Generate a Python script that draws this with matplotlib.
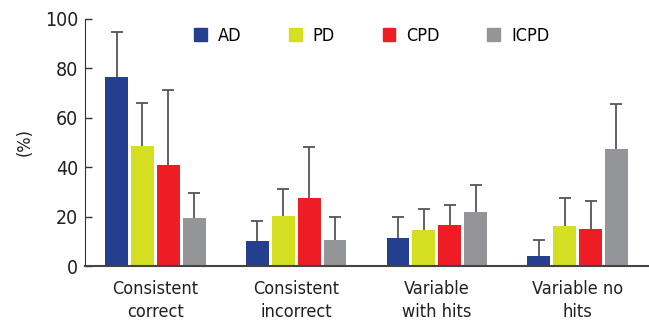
import numpy as np
import matplotlib.pyplot as plt
from matplotlib.patches import Patch

plt.rcParams['font.family'] = ['DejaVu Sans']
plt.rcParams['font.stretch'] = 'condensed'

# === datos ===
categories = ["Consistent\ncorrect", "Consistent\nincorrect", "Variable\nwith hits", "Variable no\nhits"]
groups = ["AD", "PD", "CPD", "ICPD"]
colors = ["#253f8f", "#d4df22", "#ee1c25", "#939598"]

ad_mean = [76.5, 10.1, 11.3, 4.0]
ad_sd = [18.1, 8.1, 8.7, 6.6]
pd_mean = [48.6, 20.1, 14.6, 16.2]
pd_sd = [17.5, 11.2, 8.5, 11.5]
cpd_mean = [40.9, 27.5, 16.6, 15.0]
cpd_sd = [30.2, 20.5, 8.0, 11.4]
icpd_mean = [19.3, 10.5, 21.9, 47.4]
icpd_sd = [10.4, 9.5, 10.8, 18.2]

means = [ad_mean, pd_mean, cpd_mean, icpd_mean]
sds = [ad_sd, pd_sd, cpd_sd, icpd_sd]

# === figura ===
fig = plt.figure(figsize=(6.49, 3.25), dpi=100)
ax = fig.add_axes([85 / 649, 1 - 266 / 325, (648 - 85) / 649, (266 - 19) / 325])

x = np.arange(len(categories))
width = 0.163
step = 0.184
for i, (m, s) in enumerate(zip(means, sds)):
    pos = x + (i - 1.5) * step
    ax.bar(pos, m, width, color=colors[i], zorder=2)
    eb = ax.errorbar(pos, m, yerr=[np.zeros(len(s)), s], fmt='none',
                     ecolor='#555555', elinewidth=1.3, capsize=4, capthick=1.3, zorder=1)
    eb[1][0].set_visible(False)  # sin tapa inferior

ax.set_xlim(-0.5, 3.5)
ax.set_ylim(0, 100)
ax.set_yticks([0, 20, 40, 60, 80, 100])
ax.set_xticks(x)
ax.set_xticklabels(categories, fontsize=13, color='#231f20', linespacing=1.4)
ax.tick_params(axis='x', length=0, pad=10)
ax.tick_params(axis='y', direction='in', length=5, width=1, color='#333333',
               labelsize=14, labelcolor='#231f20', pad=5)
ax.set_ylabel("(%)", fontsize=13, color='#231f20', labelpad=8)

for side in ['top', 'right']:
    ax.spines[side].set_visible(False)
ax.spines['left'].set_color('#333333')
ax.spines['bottom'].set_color('#444444')
ax.spines['bottom'].set_linewidth(1.5)

handles = [Patch(color=c, label=g) for c, g in zip(colors, groups)]
ax.legend(handles=handles, ncol=4, frameon=False, loc='upper left',
          bbox_to_anchor=(0.165, 1.035), fontsize=13, handlelength=0.7,
          handleheight=0.7, handletextpad=0.6, columnspacing=2.65)

fig.savefig("out.png", dpi=100)
